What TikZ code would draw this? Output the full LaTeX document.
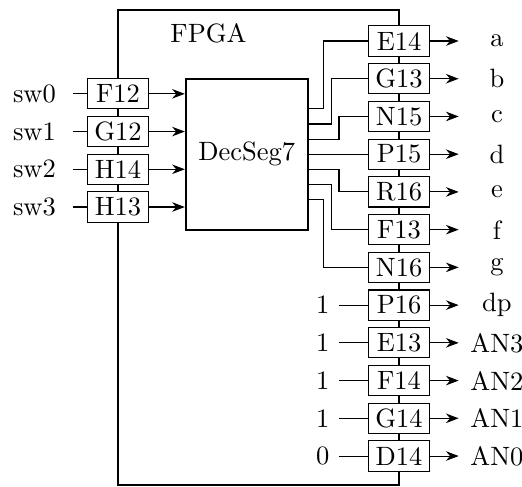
\documentclass[tikz,border=0pt]{standalone}
\usepackage{tikz}
\usetikzlibrary{arrows.meta,positioning}

\begin{document}
\begin{tikzpicture}[
    x=5mm,y=5mm,
    node distance=1mm,
    pin/.style={draw,thin,fill=white,minimum width=8mm,minimum height=4mm,inner xsep=2pt,inner ysep=1pt,outer sep=0pt},
    chip/.style={draw,thick},
    sig/.style={inner sep=0pt,minimum width=10mm},
    arr/.style={-{Stealth},thin}
]
\useasboundingbox (-3.127,1.087) rectangle (10.708,-11.82);
% FPGA outline
\draw[chip] (0,0.82) rectangle (7.45,-11.77);
\node (fpga) at (2.4,0.2) {FPGA};
\node[chip,minimum width=16.15mm,minimum height=20mm] (dec) at (3.415,-3) {DecSeg7};

% input pins
\node[pin] (f12) at (0,-1.4) {F12};
\node[pin,below=of f12] (g12) {G12};
\node[pin,below=of g12] (h14) {H14};
\node[pin,below=of h14] (h13) {H13};
\node[sig,left=2mm of f12] (sw0) {sw0};
\node[sig,left=2mm of g12] (sw1) {sw1};
\node[sig,left=2mm of h14] (sw2) {sw2};
\node[sig,left=2mm of h13] (sw3) {sw3};
\draw (sw0) -- (f12);
\draw (sw1) -- (g12);
\draw (sw2) -- (h14);
\draw (sw3) -- (h13);
\draw[arr] (f12) -- (f12 -| dec.west);
\draw[arr] (g12) -- (g12 -| dec.west);
\draw[arr] (h14) -- (h14 -| dec.west);
\draw[arr] (h13) -- (h13 -| dec.west);

% output pins
\node[pin] (e14) at (7.45,0) {E14};
\node[pin,below=of e14] (g13) {G13};
\node[pin,below=of g13] (n15) {N15};
\node[pin,below=of n15] (p15) {P15};
\node[pin,below=of p15] (r16) {R16};
\node[pin,below=of r16] (f13) {F13};
\node[pin,below=of f13] (n16) {N16};
\node[pin,below=of n16] (p16) {P16};
\node[pin,below=of p16] (e13) {E13};
\node[pin,below=of e13] (f14) {F14};
\node[pin,below=of f14] (g14) {G14};
\node[pin,below=of g14] (d14) {D14};

\node[sig,right=3.9mm of e14] (oa) {a};
\node[sig,right=3.9mm of g13] (ob) {b};
\node[sig,right=3.9mm of n15] (oc) {c};
\node[sig,right=3.9mm of p15] (od) {d};
\node[sig,right=3.9mm of r16] (oe) {e};
\node[sig,right=3.9mm of f13] (of) {f};
\node[sig,right=3.9mm of n16] (og) {g};
\node[sig,right=3.9mm of p16] (odp) {dp};
\node[sig,right=3.9mm of e13] (oan3) {AN3};
\node[sig,right=3.9mm of f14] (oan2) {AN2};
\node[sig,right=3.9mm of g14] (oan1) {AN1};
\node[sig,right=3.9mm of d14] (oan0) {AN0};
\draw[arr] (e14) -- (oa);
\draw[arr] (g13) -- (ob);
\draw[arr] (n15) -- (oc);
\draw[arr] (p15) -- (od);
\draw[arr] (r16) -- (oe);
\draw[arr] (f13) -- (of);
\draw[arr] (n16) -- (og);
\draw[arr] (p16) -- (odp);
\draw[arr] (e13) -- (oan3);
\draw[arr] (f14) -- (oan2);
\draw[arr] (g14) -- (oan1);
\draw[arr] (d14) -- (oan0);

% segment wiring
\draw ([yshift=6mm]dec.east) -- ++(2mm,0) |- (e14.west);
\draw ([yshift=4mm]dec.east) -- ++(3mm,0) |- (g13.west);
\draw ([yshift=2mm]dec.east) -- ++(4mm,0) |- (n15.west);
\draw (dec.east) -- (dec.east -| p15.west);
\draw ([yshift=-2mm]dec.east) -- ++(4mm,0) |- (r16.west);
\draw ([yshift=-4mm]dec.east) -- ++(3mm,0) |- (f13.west);
\draw ([yshift=-6mm]dec.east) -- ++(2mm,0) |- (n16.west);

% constant inputs
\node[left=4mm of p16] (k16) {1};
\node[left=4mm of e13] (k13) {1};
\node[left=4mm of f14] (k14) {1};
\node[left=4mm of g14] (k1) {1};
\node[left=4mm of d14] (k0) {0};
\draw (k16) -- (p16);
\draw (k13) -- (e13);
\draw (k14) -- (f14);
\draw (k1) -- (g14);
\draw (k0) -- (d14);
\end{tikzpicture}
\end{document}
